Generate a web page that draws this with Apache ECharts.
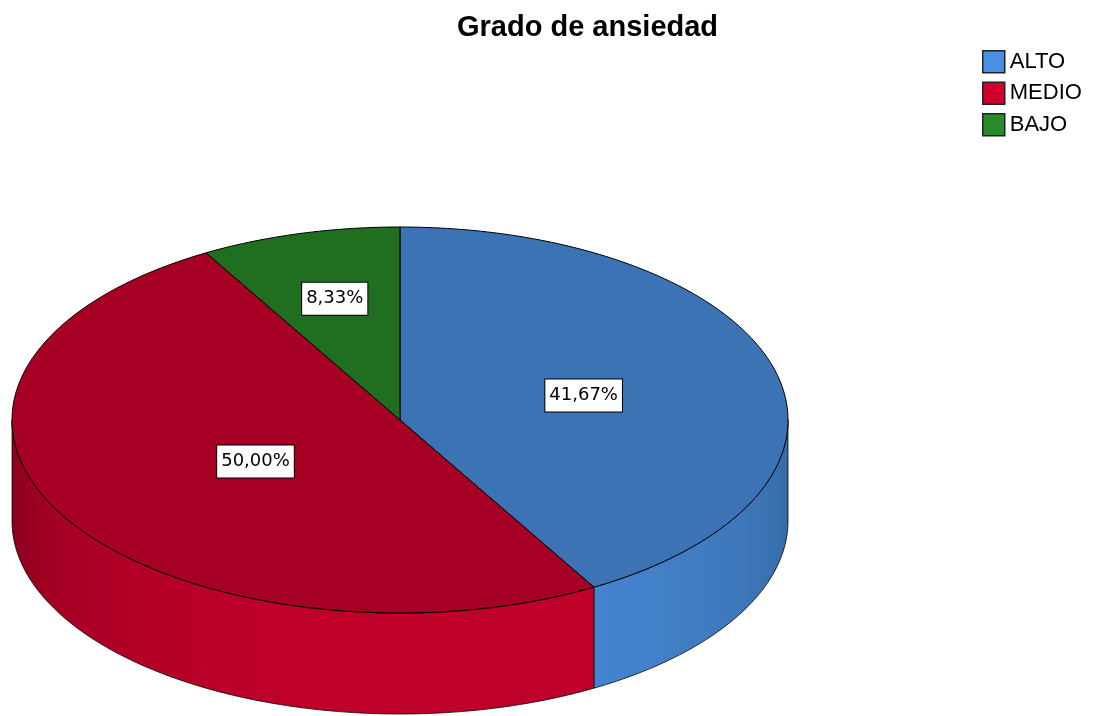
<!DOCTYPE html>
<html>
<head>
<meta charset="utf-8">
<title>Grado de ansiedad</title>
<script src="https://cdn.jsdelivr.net/npm/echarts@6/dist/echarts.min.js"></script>
<style>
  html, body { margin: 0; padding: 0; background: #fff; }
  #chart { width: 1095px; height: 716px; }
</style>
</head>
<body>
<div id="chart"></div>
<script>
// datos del gráfico
const categories = ['ALTO', 'MEDIO', 'BAJO'];
const percentages = [41.67, 50.00, 8.33];
const colors = ['#4a90e2', '#d0002d', '#288a28'];
// posición relativa de cada etiqueta sobre el radio
const labelRadius = [0.49, 0.43, 0.65];

// geometría del pastel 3D (elipse superior + grosor)
const CX = 400, CY = 420, RX = 388, RY = 193, DEPTH = 101;

const total = percentages.reduce((a, b) => a + b, 0);
const spans = percentages.map(v => v / total * 360);
const starts = spans.map((_, i) => spans.slice(0, i).reduce((a, b) => a + b, 0));

// ángulo en grados, sentido horario desde las 12
const pt = (t, dy) => {
  const r = t * Math.PI / 180;
  return [CX + RX * Math.sin(r), CY - RY * Math.cos(r) + dy];
};

const shadeColor = (hex, k) => {
  const n = parseInt(hex.slice(1), 16);
  const c = [(n >> 16) & 255, (n >> 8) & 255, n & 255].map(v => Math.min(255, Math.round(v * k)));
  return `rgb(${c[0]},${c[1]},${c[2]})`;
};

// iluminación del lateral según el ángulo
const shadeStops = [[90, 0.72], [120, 0.83], [150, 0.92], [200, 0.92], [235, 0.82], [270, 0.64]];
const shadeAt = t => {
  for (let j = 1; j < shadeStops.length; j++) {
    const [t0, k0] = shadeStops[j - 1];
    const [t1, k1] = shadeStops[j];
    if (t <= t1) return k0 + (k1 - k0) * (t - t0) / (t1 - t0);
  }
  return shadeStops[shadeStops.length - 1][1];
};

const sideGradient = hex => {
  const stops = [];
  for (let t = 270; t >= 90; t -= 5) {
    const x = Math.sin(t * Math.PI / 180);
    stops.push({ offset: (1 + x) / 2, color: shadeColor(hex, shadeAt(t)) });
  }
  stops.sort((a, b) => a.offset - b.offset);
  return new echarts.graphic.LinearGradient(CX - RX, 0, CX + RX, 0, stops, true);
};

const fmt = v => v.toFixed(2).replace('.', ',') + '%';

const makeRender = i => (params, api) => {
  const a0 = starts[i];
  const a1 = starts[i] + spans[i];
  const children = [];

  // lateral visible (mitad inferior)
  const s = Math.max(a0, 90);
  const e = Math.min(a1, 270);
  if (s < e) {
    const pts = [];
    for (let t = s; t < e; t += 1) pts.push(pt(t, 0));
    pts.push(pt(e, 0));
    for (let t = e; t > s; t -= 1) pts.push(pt(t, DEPTH));
    pts.push(pt(s, DEPTH));
    children.push({
      type: 'polygon',
      z2: 1,
      shape: { points: pts },
      style: { fill: sideGradient(colors[i]), stroke: 'rgba(0,0,0,0.75)', lineWidth: 1 }
    });
  }

  // cara superior
  const top = [[CX, CY]];
  for (let t = a0; t < a1; t += 1) top.push(pt(t, 0));
  top.push(pt(a1, 0));
  children.push({
    type: 'polygon',
    z2: 5,
    shape: { points: top },
    style: { fill: shadeColor(colors[i], 0.8), stroke: '#000', lineWidth: 1 }
  });

  // etiqueta
  const m = (a0 + a1) / 2 * Math.PI / 180;
  const k = labelRadius[i];
  children.push({
    type: 'text',
    z2: 10,
    x: CX + RX * k * Math.sin(m),
    y: CY - RY * k * Math.cos(m),
    style: {
      text: fmt(percentages[i]),
      font: '18px "DejaVu Sans"',
      fill: '#000',
      align: 'center',
      verticalAlign: 'middle',
      backgroundColor: '#fff',
      borderColor: '#000',
      borderWidth: 1,
      padding: [7, 4]
    }
  });

  return { type: 'group', children };
};

const chart = echarts.init(document.getElementById('chart'));

chart.setOption({
  animation: false,
  color: colors,
  title: {
    text: 'Grado de ansiedad',
    left: 457,
    top: 13,
    padding: 0,
    textStyle: { fontSize: 29, fontWeight: 'bold', fontFamily: 'Liberation Sans', color: '#000' }
  },
  legend: {
    data: categories,
    orient: 'vertical',
    left: 982,
    top: 50,
    padding: 0,
    icon: 'rect',
    itemWidth: 22,
    itemHeight: 22,
    itemGap: 8,
    selectedMode: false,
    itemStyle: { borderColor: '#222', borderWidth: 1.5 },
    textStyle: { fontSize: 22, lineHeight: 22, fontFamily: 'Liberation Sans', color: '#000' }
  },
  series: categories.map((name, i) => ({
    type: 'custom',
    name,
    coordinateSystem: 'none',
    itemStyle: { color: colors[i] },
    silent: true,
    data: [percentages[i]],
    renderItem: makeRender(i)
  }))
});

window.addEventListener('resize', () => chart.resize());
</script>
</body>
</html>
